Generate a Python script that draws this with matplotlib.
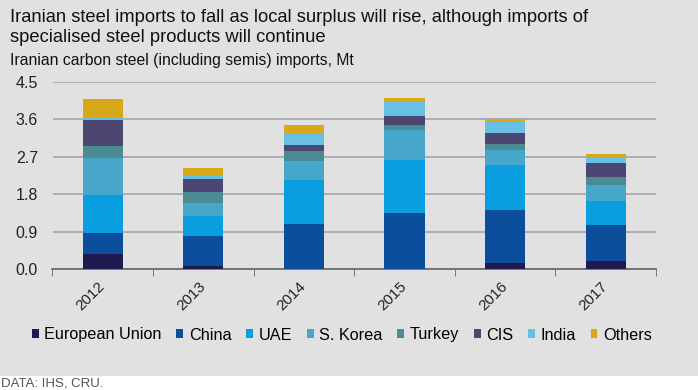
import matplotlib.pyplot as plt
import numpy as np

years = ['2012', '2013', '2014', '2015', '2016', '2017']
eu = [0.36, 0.07, 0.00, 0.00, 0.15, 0.20]
china = [0.50, 0.73, 1.09, 1.35, 1.28, 0.85]
uae = [0.93, 0.47, 1.05, 1.27, 1.07, 0.59]
korea = [0.88, 0.33, 0.45, 0.72, 0.37, 0.39]
turkey = [0.29, 0.26, 0.24, 0.12, 0.15, 0.19]
cis = [0.62, 0.30, 0.15, 0.21, 0.25, 0.33]
india = [0.05, 0.07, 0.26, 0.34, 0.26, 0.12]
others = [0.47, 0.21, 0.22, 0.11, 0.09, 0.10]

series = [
    ('European Union', eu, '#1e1a4d'),
    ('China', china, '#0b4f9c'),
    ('UAE', uae, '#0a9ddf'),
    ('S. Korea', korea, '#47a7cb'),
    ('Turkey', turkey, '#4b8b94'),
    ('CIS', cis, '#4c4772'),
    ('India', india, '#68c1e5'),
    ('Others', others, '#d9a81a'),
]

plt.rcParams['font.family'] = ['Liberation Sans', 'DejaVu Sans']

bg = '#e1e1e1'
fig = plt.figure(figsize=(6.98, 3.9), dpi=100)
fig.patch.set_facecolor(bg)
# white strip at the bottom for the source note
fig.patches.append(plt.Rectangle((0, 0), 1, 14 / 390, transform=fig.transFigure,
                                 facecolor='white', edgecolor='none', zorder=-10))

ax = fig.add_axes([52.5 / 698, 1 - 269 / 390, (656 - 52.5) / 698, (269 - 82) / 390])
ax.set_facecolor(bg)

x = np.arange(len(years))
bottom = np.zeros(len(years))
for name, vals, col in series:
    ax.bar(x, vals, 0.4, bottom=bottom, color=col, label=name, zorder=3)
    bottom += np.array(vals)

ax.set_xlim(-0.5, 5.5)
ax.set_ylim(0, 4.5)
ax.set_yticks([0, 0.9, 1.8, 2.7, 3.6, 4.5])
ax.set_yticklabels(['0.0', '0.9', '1.8', '2.7', '3.6', '4.5'], fontsize=11.5, color='#222222')
ax.tick_params(axis='y', length=0, pad=10.5)
ax.yaxis.grid(True, color='#a6a6a6', linewidth=1.2, zorder=0)
ax.set_axisbelow(True)

ax.set_xticks(x)
ax.set_xticklabels(years, rotation=45, fontsize=11, color='#222222',
                   ha='right', va='center', rotation_mode='anchor')
ax.tick_params(axis='x', length=0, pad=11)
ax.set_xticks(np.arange(-0.5, 6, 1), minor=True)
ax.tick_params(axis='x', which='minor', length=5, direction='out', color='#666666')

for s in ['top', 'right', 'left']:
    ax.spines[s].set_visible(False)
ax.spines['bottom'].set_color('#666666')
ax.spines['bottom'].set_linewidth(1.2)

fig.text(10 / 698, 1 - 18 / 390,
         'Iranian steel imports to fall as local surplus will rise, although imports of',
         fontsize=13.2, va='center', ha='left', color='#111111')
fig.text(10 / 698, 1 - 37 / 390, 'specialised steel products will continue',
         fontsize=13.2, va='center', ha='left', color='#111111')
fig.text(10 / 698, 1 - 60 / 390, 'Iranian carbon steel (including semis) imports, Mt',
         fontsize=11.3, va='center', ha='left', color='#111111')

fig.legend(loc='center', bbox_to_anchor=(342 / 698, 1 - 335 / 390), ncol=8,
           frameon=False, fontsize=11.7, handlelength=0.42, handleheight=0.42,
           handletextpad=0.35, columnspacing=0.9)

fig.text(1 / 698, 1 - 383 / 390, 'DATA: IHS, CRU.', fontsize=9.5, va='center',
         ha='left', color='#555555')

fig.savefig('out.png', dpi=100, facecolor=fig.get_facecolor())
